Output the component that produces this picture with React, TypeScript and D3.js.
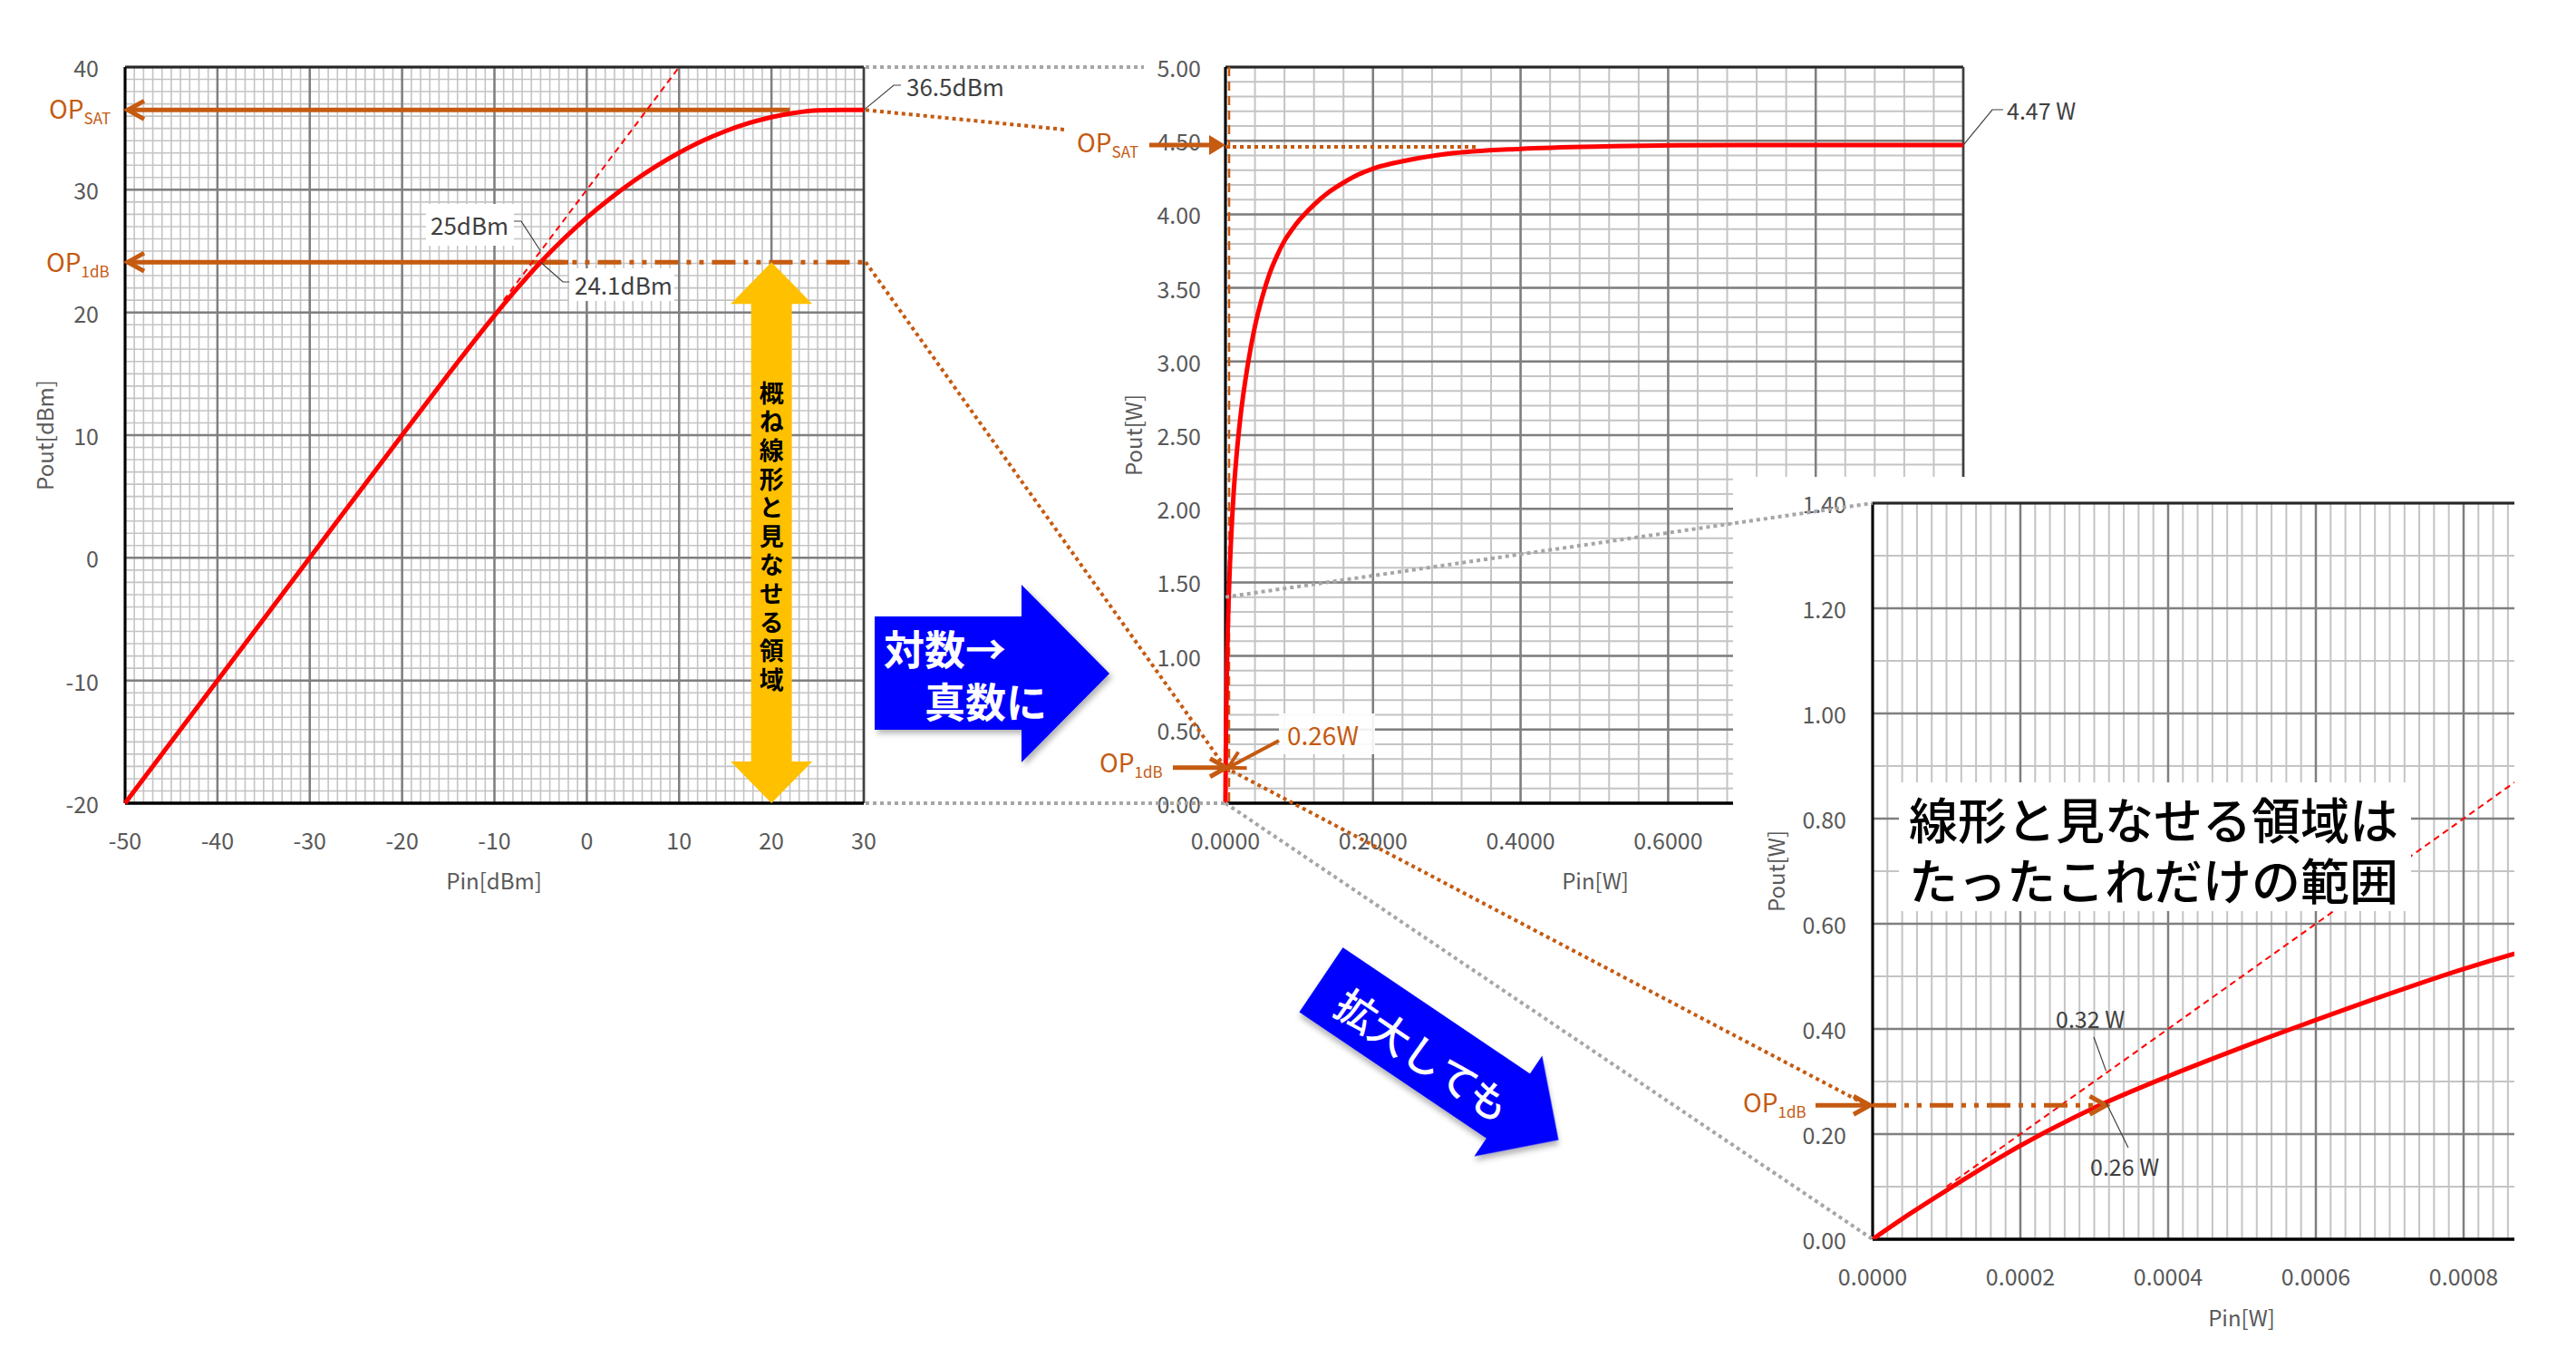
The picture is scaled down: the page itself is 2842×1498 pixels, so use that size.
import React from 'react';
import * as d3 from 'd3';

// ---------------- data ----------------
// Chart 1: Pin[dBm] -> Pout[dBm]
const pinDbm = [-50, -40, -30, -20, -15, -10, -7.5, -5, -2.5, 0, 2.5, 5, 7.5, 10, 12.5, 15, 17.5, 20, 22.5, 25, 27.5, 30];
const poutDbm = [-20, -10, 0, 10, 14.95, 19.75, 22.0, 24.1, 26.0, 27.72, 29.27, 30.67, 31.92, 33.02, 33.97, 34.77, 35.42, 35.92, 36.27, 36.47, 36.5, 36.5];
const linPinDbm = [-9, 10];
const linPoutDbm = [21, 40];

// Chart 2: Pin[W] -> Pout[W]
const pinW = [0, 0.000316, 0.001, 0.0023, 0.005, 0.0075, 0.011, 0.015, 0.02, 0.03, 0.04, 0.05, 0.06, 0.07, 0.08, 0.09, 0.1, 0.11, 0.12, 0.14, 0.16, 0.18, 0.2, 0.25, 0.3, 0.4, 0.5, 0.7, 1.0];
const poutW = [0, 0.26, 0.59, 1.0, 1.48, 1.78, 2.1, 2.36, 2.61, 2.97, 3.24, 3.44, 3.6, 3.72, 3.82, 3.895, 3.96, 4.015, 4.065, 4.15, 4.215, 4.27, 4.31, 4.37, 4.41, 4.445, 4.46, 4.47, 4.47];

// Chart 3: zoomed Pin[W] -> Pout[W]
const pinW3 = [0, 0.00005, 0.0001, 0.0002, 0.0003, 0.0004, 0.0005, 0.0006, 0.0007, 0.0008, 0.0009, 0.001];
const poutW3 = [0, 0.048, 0.093, 0.178, 0.25, 0.31, 0.365, 0.417, 0.467, 0.514, 0.555, 0.59];
const linPinW3 = [0.0001, 0.001];
const linPoutW3 = [0.1, 1.0];

// ticks
const c1XTicks = [-50, -40, -30, -20, -10, 0, 10, 20, 30];
const c1YTicks = [-20, -10, 0, 10, 20, 30, 40];
const c2XTicks = [0, 0.2, 0.4, 0.6, 0.8, 1.0];
const c2YTicks = [0, 0.5, 1, 1.5, 2, 2.5, 3, 3.5, 4, 4.5, 5];
const c3XTicks = [0, 0.0002, 0.0004, 0.0006, 0.0008, 0.001];
const c3YTicks = [0, 0.2, 0.4, 0.6, 0.8, 1.0, 1.2, 1.4];

// key values
const opSatDbm = 36.5;
const op1dBDbm = 24.1;
const op1dBLinDbm = 25;
const op1dBPinDbm = -5;
const opSatW = 4.47;
const op1dBW = 0.26;
const op1dBLinW = 0.32;
const op1dBPinW = 0.000316;

// ---------------- styles ----------------
const BROWN = '#C55A11';
const RED = '#FF0000';
const GRAYDOT = '#A6A6A6';
const MAJOR = '#7F7F7F';
const MINOR = '#C4C4C4';
const TICK = '#595959';
const LABEL = '#404040';
const FONT = '"Noto Sans CJK JP", "Noto Sans", sans-serif';
const DASHDOTDOT = '26 9 5 9 5 9';

type Lin = d3.ScaleLinear<number, number>;

function Grid({ x, y, xMinor, yMinor, xMajor, yMajor, minorW }: { x: Lin; y: Lin; xMinor: number; yMinor: number; xMajor: number[]; yMajor: number[]; minorW: number }) {
  const [x0, xe] = x.domain();
  const [y0, ye] = y.domain();
  const nx = Math.round((xe - x0) / xMinor);
  const ny = Math.round((ye - y0) / yMinor);
  const xs = d3.range(0, nx + 1).map((i) => x0 + i * xMinor);
  const ys = d3.range(0, ny + 1).map((i) => y0 + i * yMinor);
  return (
    <g>
      {xs.map((v, i) => (
        <line key={'xm' + i} x1={x(v)} x2={x(v)} y1={y(y0)} y2={y(ye)} stroke={MINOR} strokeWidth={minorW} />
      ))}
      {ys.map((v, i) => (
        <line key={'ym' + i} x1={x(x0)} x2={x(xe)} y1={y(v)} y2={y(v)} stroke={MINOR} strokeWidth={minorW} />
      ))}
      {xMajor.map((v, i) => (
        <line key={'xM' + i} x1={x(v)} x2={x(v)} y1={y(y0)} y2={y(ye)} stroke={MAJOR} strokeWidth={2.5} />
      ))}
      {yMajor.map((v, i) => (
        <line key={'yM' + i} x1={x(x0)} x2={x(xe)} y1={y(v)} y2={y(v)} stroke={MAJOR} strokeWidth={2.5} />
      ))}
      <line x1={x(x0)} x2={x(xe)} y1={y(ye)} y2={y(ye)} stroke="#262626" strokeWidth={3} />
      <line x1={x(xe)} x2={x(xe)} y1={y(y0)} y2={y(ye)} stroke="#404040" strokeWidth={2.5} />
      <line x1={x(x0)} x2={x(x0)} y1={y(y0)} y2={y(ye)} stroke="#000" strokeWidth={3} />
      <line x1={x(x0)} x2={x(xe)} y1={y(y0)} y2={y(y0)} stroke="#000" strokeWidth={3.5} />
    </g>
  );
}

function VHead({ x, y, angle, color, len = 18, half = 10, w = 5 }: { x: number; y: number; angle: number; color: string; len?: number; half?: number; w?: number }) {
  const a = (angle * Math.PI) / 180;
  const c = Math.cos(a), s = Math.sin(a);
  const p = (dx: number, dy: number) => `${x + dx * c - dy * s},${y + dx * s + dy * c}`;
  return <polyline points={`${p(-len, -half)} ${x},${y} ${p(-len, half)}`} fill="none" stroke={color} strokeWidth={w} strokeLinejoin="miter" />;
}

function OPLabel({ x, y, sub }: { x: number; y: number; sub: string }) {
  return (
    <text x={x} y={y} fill={BROWN} fontSize={28} fontFamily={FONT}>
      OP
      <tspan fontSize={17} dy={6}>{sub}</tspan>
    </text>
  );
}

export default function App() {
  const x1 = d3.scaleLinear().domain([-50, 30]).range([138, 953]);
  const y1 = d3.scaleLinear().domain([-20, 40]).range([886, 74]);
  const x2 = d3.scaleLinear().domain([0, 1]).range([1352, 2166]);
  const y2 = d3.scaleLinear().domain([0, 5]).range([886, 74]);
  const x3 = d3.scaleLinear().domain([0, 0.001]).range([2066, 2881]);
  const y3 = d3.scaleLinear().domain([0, 1.4]).range([1367, 555]);

  const line1 = d3.line<number>().x((_, i) => x1(pinDbm[i])).y((d) => y1(d)).curve(d3.curveMonotoneX);
  const lin1 = d3.line<number>().x((_, i) => x1(linPinDbm[i])).y((d) => y1(d));
  const line2 = d3.line<number>().x((_, i) => x2(pinW[i])).y((d) => y2(d)).curve(d3.curveMonotoneX);
  const line3 = d3.line<number>().x((_, i) => x3(pinW3[i])).y((d) => y3(d)).curve(d3.curveMonotoneX);
  const lin3 = d3.line<number>().x((_, i) => x3(linPinW3[i])).y((d) => y3(d));

  const f2 = d3.format('.2f');
  const f4 = d3.format('.4f');

  // chart 3 panel covers the lower right of chart 2
  const panelX = 1912;
  const panelY = 526;

  // key points
  const satY1 = y1(opSatDbm);
  const op1Y1 = y1(op1dBDbm);
  const op1X1 = x1(op1dBPinDbm);
  const satY2 = y2(opSatW);
  const op1Y2 = y2(op1dBW);
  const op1Y3 = y3(op1dBW);
  const op1X3 = x3(op1dBPinW);

  // yellow arrow
  const yaX = x1(20);
  const yaTop = y1(op1dBDbm);
  const yaBot = y1(-20);
  const yaPts = [
    [yaX, yaTop], [yaX + 45, yaTop + 46], [yaX + 22.5, yaTop + 46], [yaX + 22.5, yaBot - 46], [yaX + 45, yaBot - 46],
    [yaX, yaBot], [yaX - 45, yaBot - 46], [yaX - 22.5, yaBot - 46], [yaX - 22.5, yaTop + 46], [yaX - 45, yaTop + 46],
  ].map((p) => p.join(',')).join(' ');

  return (
    <svg width={2842} height={1498} style={{ position: 'absolute', left: 0, top: 0, background: '#fff' }} fontFamily={FONT}>
      <defs>
        <filter id="sh" x="-20%" y="-20%" width="140%" height="140%">
          <feDropShadow dx="3" dy="4" stdDeviation="3" floodColor="#000" floodOpacity="0.3" />
        </filter>
        <clipPath id="c3clip">
          <rect x={1900} y={0} width={874} height={1498} />
        </clipPath>
        <clipPath id="c3plot">
          <rect x={2066} y={555} width={708} height={812} />
        </clipPath>
      </defs>
      <rect x={0} y={0} width={2842} height={1498} fill="#fff" />

      {/* ================= Chart 1 ================= */}
      <Grid x={x1} y={y1} xMinor={1} yMinor={1} xMajor={c1XTicks} yMajor={c1YTicks} minorW={1.6} />
      {c1YTicks.map((v) => (
        <text key={'c1y' + v} x={109} y={y1(v)} textAnchor="end" dominantBaseline="central" fontSize={25} fill={TICK}>{v}</text>
      ))}
      {c1XTicks.map((v) => (
        <text key={'c1x' + v} x={x1(v)} y={926} textAnchor="middle" dominantBaseline="central" fontSize={25} fill={TICK}>{v}</text>
      ))}
      <text x={545} y={970} textAnchor="middle" dominantBaseline="central" fontSize={24} fill={TICK}>Pin[dBm]</text>
      <text transform="translate(48,480) rotate(-90)" textAnchor="middle" dominantBaseline="central" fontSize={24} fill={TICK}>Pout[dBm]</text>

      {/* OP lines chart1 */}
      <line x1={x1(22)} x2={x1(-50) + 2} y1={satY1} y2={satY1} stroke={BROWN} strokeWidth={5} />
      <VHead x={x1(-50) + 3} y={satY1} angle={180} color={BROWN} />
      <line x1={x1(-2)} x2={x1(-50) + 2} y1={op1Y1} y2={op1Y1} stroke={BROWN} strokeWidth={5} />
      <VHead x={x1(-50) + 3} y={op1Y1} angle={180} color={BROWN} />
      <line x1={op1X1} x2={x1(30)} y1={op1Y1} y2={op1Y1} stroke={BROWN} strokeWidth={5} strokeDasharray={DASHDOTDOT} />

      <path d={lin1(linPoutDbm) || ''} fill="none" stroke={RED} strokeWidth={2} strokeDasharray="7 5" />
      <path d={line1(poutDbm) || ''} fill="none" stroke={RED} strokeWidth={5} />

      <OPLabel x={54} y={satY1 + 10} sub="SAT" />
      <OPLabel x={51} y={op1Y1 + 11} sub="1dB" />

      {/* data labels chart1 */}
      <polyline points={`${x1(30)},${satY1} 986,94 994,94`} fill="none" stroke="#404040" strokeWidth={1.2} />
      <text x={1000} y={94} dominantBaseline="central" fontSize={26} fill={LABEL}>36.5dBm</text>
      <rect x={470} y={225} width={97} height={46} fill="#fff" />
      <text x={475} y={247} dominantBaseline="central" fontSize={26} fill={LABEL}>25dBm</text>
      <polyline points={`567,244 575,244 ${op1X1},${y1(op1dBLinDbm)}`} fill="none" stroke="#404040" strokeWidth={1.2} />
      <rect x={628} y={296} width={116} height={36} fill="#fff" />
      <text x={634} y={313} dominantBaseline="central" fontSize={26} fill={LABEL}>24.1dBm</text>
      <polyline points={`${op1X1},${op1Y1} 621,311 628,311`} fill="none" stroke="#404040" strokeWidth={1.2} />

      {/* yellow arrow */}
      <polygon points={yaPts} fill="#FFC000" />
      <text x={yaX} y={420} style={{ writingMode: 'vertical-rl' }} fontSize={27} fontWeight={700} letterSpacing={4.6} fill="#000">概ね線形と見なせる領域</text>

      {/* ================= Chart 2 ================= */}
      <Grid x={x2} y={y2} xMinor={0.04} yMinor={0.1} xMajor={c2XTicks} yMajor={c2YTicks} minorW={2} />
      {c2YTicks.map((v) => (
        <text key={'c2y' + v} x={1325} y={y2(v)} textAnchor="end" dominantBaseline="central" fontSize={25} fill={TICK}>{f2(v)}</text>
      ))}
      {c2XTicks.filter((v) => x2(v) + 45 < panelX).map((v) => (
        <text key={'c2x' + v} x={x2(v)} y={926} textAnchor="middle" dominantBaseline="central" fontSize={25} fill={TICK}>{f4(v)}</text>
      ))}
      <text x={1760} y={970} textAnchor="middle" dominantBaseline="central" fontSize={24} fill={TICK}>Pin[W]</text>
      <text transform="translate(1249,480) rotate(-90)" textAnchor="middle" dominantBaseline="central" fontSize={24} fill={TICK}>Pout[W]</text>

      <line x1={x2(0) + 4} x2={x2(0) + 4} y1={y2(5)} y2={y2(0)} stroke={BROWN} strokeWidth={2.5} strokeDasharray="10 6" />
      <line x1={x2(0)} x2={x2(0.344)} y1={satY2 + 2} y2={satY2 + 2} stroke={BROWN} strokeWidth={4} strokeDasharray="4 4" />
      <path d={line2(poutW) || ''} fill="none" stroke={RED} strokeWidth={5} />

      {/* 4.47 W label */}
      <polyline points={`${x2(1)},${satY2} 2198,121 2210,121`} fill="none" stroke="#404040" strokeWidth={1.2} />
      <text x={2214} y={121} dominantBaseline="central" fontSize={25} fill={LABEL}>4.47 W</text>

      {/* OP SAT chart2 */}
      <line x1={1268} x2={1336} y1={satY2} y2={satY2} stroke={BROWN} strokeWidth={5} />
      <polygon points={`${x2(0)},${satY2} ${x2(0) - 18},${satY2 - 11} ${x2(0) - 18},${satY2 + 11}`} fill={BROWN} />
      <OPLabel x={1188} y={satY2 + 8} sub="SAT" />

      {/* OP 1dB chart2 */}
      <line x1={1294} x2={x2(0)} y1={op1Y2 + 3} y2={op1Y2 + 3} stroke={BROWN} strokeWidth={5} />
      <VHead x={x2(0) + 1} y={op1Y2 + 3} angle={0} color={BROWN} />
      <OPLabel x={1213} y={op1Y2 + 8} sub="1dB" />
      <rect x={1411} y={787} width={106} height={45} fill="#fff" fillOpacity={0.9} />
      <text x={1420} y={810} dominantBaseline="central" fontSize={28} fill={BROWN}>0.26W</text>
      <line x1={1411} y1={817} x2={x2(0) + 3} y2={op1Y2 + 3} stroke={BROWN} strokeWidth={4} />
      <VHead x={x2(0) + 3} y={op1Y2 + 3} angle={(Math.atan2(op1Y2 + 3 - 817, x2(0) + 3 - 1411) * 180) / Math.PI} color={BROWN} w={4} />

      {/* ================= Chart 3 ================= */}
      <rect x={panelX} y={panelY} width={2842 - panelX} height={1498 - panelY} fill="#fff" />
      <g clipPath="url(#c3clip)">
        <Grid x={x3} y={y3} xMinor={0.00002} yMinor={0.1} xMajor={c3XTicks} yMajor={c3YTicks} minorW={2} />
      </g>
      {c3YTicks.map((v) => (
        <text key={'c3y' + v} x={2037} y={y3(v)} textAnchor="end" dominantBaseline="central" fontSize={25} fill={TICK}>{f2(v)}</text>
      ))}
      {c3XTicks.filter((v) => x3(v) < 2774).map((v) => (
        <text key={'c3x' + v} x={x3(v)} y={1407} textAnchor="middle" dominantBaseline="central" fontSize={25} fill={TICK}>{f4(v)}</text>
      ))}
      <text x={2473} y={1452} textAnchor="middle" dominantBaseline="central" fontSize={24} fill={TICK}>Pin[W]</text>
      <text transform="translate(1958,961) rotate(-90)" textAnchor="middle" dominantBaseline="central" fontSize={24} fill={TICK}>Pout[W]</text>

      <g clipPath="url(#c3plot)">
        <path d={lin3(linPoutW3) || ''} fill="none" stroke={RED} strokeWidth={2} strokeDasharray="7 5" />
        <path d={line3(poutW3) || ''} fill="none" stroke={RED} strokeWidth={5} />
      </g>

      {/* OP 1dB chart3 */}
      <line x1={2003} x2={x3(0) - 4} y1={op1Y3 + 3} y2={op1Y3 + 3} stroke={BROWN} strokeWidth={5} />
      <VHead x={x3(0) - 3} y={op1Y3 + 3} angle={0} color={BROWN} />
      <line x1={x3(0)} x2={op1X3 - 3} y1={op1Y3 + 3} y2={op1Y3 + 3} stroke={BROWN} strokeWidth={5} strokeDasharray={DASHDOTDOT} />
      <VHead x={op1X3} y={op1Y3 + 3} angle={0} color={BROWN} />
      <OPLabel x={1923} y={op1Y3 + 11} sub="1dB" />

      <line x1={op1X3} y1={y3(op1dBLinW)} x2={2310} y2={1144} stroke="#404040" strokeWidth={1.2} />
      <text x={2268} y={1123} dominantBaseline="central" fontSize={25} fill={LABEL}>0.32 W</text>
      <line x1={op1X3} y1={op1Y3} x2={2348} y2={1266} stroke="#404040" strokeWidth={1.2} />
      <text x={2306} y={1286} dominantBaseline="central" fontSize={25} fill={LABEL}>0.26 W</text>

      {/* text box */}
      <rect x={2095} y={863} width={565} height={142} fill="#fff" />
      <text x={2106} y={902} dominantBaseline="central" fontSize={54} fontWeight={500} fill="#000">
        線形と見なせる領域は
        <tspan x={2106} dy={67}>たったこれだけの範囲</tspan>
      </text>

      {/* ================= connectors ================= */}
      <g fill="none" strokeWidth={4} strokeDasharray="4 4">
        <line x1={955} y1={y1(40)} x2={1262} y2={y2(5)} stroke={GRAYDOT} />
        <line x1={955} y1={y1(-20)} x2={x2(0)} y2={y2(0)} stroke={GRAYDOT} />
        <line x1={x2(0)} y1={y2(0)} x2={x3(0)} y2={y3(0)} stroke={GRAYDOT} />
        <line x1={x2(0)} y1={y2(1.4)} x2={x3(0)} y2={y3(1.4)} stroke={GRAYDOT} />
        <line x1={955} y1={satY1} x2={1175} y2={143} stroke={BROWN} />
        <line x1={955} y1={op1Y1} x2={x2(0)} y2={op1Y2 + 3} stroke={BROWN} />
        <line x1={x2(0)} y1={op1Y2 + 3} x2={x3(0) - 6} y2={op1Y3 + 3} stroke={BROWN} />
      </g>

      {/* ================= blue arrows ================= */}
      <g filter="url(#sh)">
        <polygon points="965,680 1127,680 1127,645 1224,743 1127,841 1127,805 965,805" fill="#0000FF" />
      </g>
      <text x={975} y={714} dominantBaseline="central" fontSize={45} fontWeight={700} fill="#fff">対数→</text>
      <text x={1020} y={772} dominantBaseline="central" fontSize={45} fontWeight={700} fill="#fff">真数に</text>

      <g transform="translate(1457.5,1080.8) rotate(34)">
        <g filter="url(#sh)">
          <polygon points="0,-43 249,-43 249,-67 316,0 249,67 249,43 0,43" fill="#0000FF" />
        </g>
        <text x={140} y={4} textAnchor="middle" dominantBaseline="central" fontSize={45} fontWeight={500} fill="#fff">拡大しても</text>
      </g>
    </svg>
  );
}
